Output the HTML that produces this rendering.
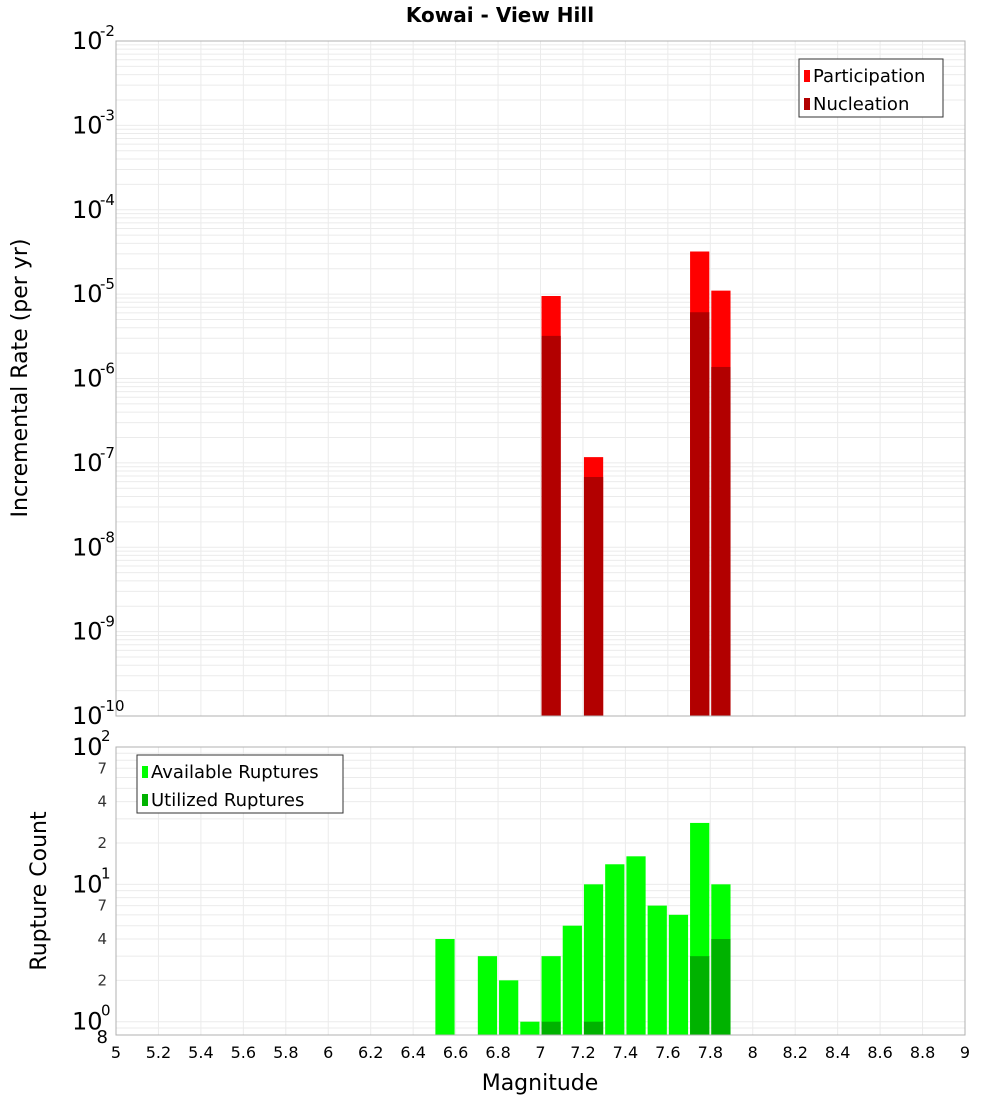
<!DOCTYPE html>
<html><head><meta charset="utf-8"><style>
body{margin:0;background:#fff;font-family:"DejaVu Sans","Liberation Sans",sans-serif}
svg text{font-family:"DejaVu Sans","Liberation Sans",sans-serif}
</style></head><body>
<svg id="c" width="1000" height="1100" xmlns="http://www.w3.org/2000/svg">
<text x="500" y="22" text-anchor="middle" font-size="20" font-weight="bold">Kowai - View Hill</text>
<text transform="translate(27,378) rotate(-90)" text-anchor="middle" font-size="22">Incremental Rate (per yr)</text>
<text transform="translate(46,891) rotate(-90)" text-anchor="middle" font-size="22">Rupture Count</text>
<text x="540" y="1090" text-anchor="middle" font-size="22">Magnitude</text>
<g id="g"></g>
</svg>
<script>
const mags=[6.55,6.75,6.85,6.95,7.05,7.15,7.25,7.35,7.45,7.55,7.65,7.75,7.85];
const available=[4,3,2,1,3,5,10,14,16,7,6,28,10];
const utilized=[0,0,0,0,1,0,1,0,0,0,0,3,4];
const rateMags=[7.05,7.25,7.75,7.85];
const participation=[9.5e-6,1.17e-7,3.2e-5,1.1e-5];
const nucleation=[3.2e-6,6.8e-8,6.1e-6,1.37e-6];
const xTicks=[5,5.2,5.4,5.6,5.8,6,6.2,6.4,6.6,6.8,7,7.2,7.4,7.6,7.8,8,8.2,8.4,8.6,8.8,9];
const topExps=[-10,-9,-8,-7,-6,-5,-4,-3,-2];

const NS="http://www.w3.org/2000/svg",g=document.getElementById('g');
function el(t,a,p){const e=document.createElementNS(NS,t);for(const k in a)e.setAttribute(k,a[k]);(p||g).appendChild(e);return e;}
const L=116,R=965,T1=41,B1=716,T2=747,B2=1035;
const X=m=>L+(m-5)/4*(R-L);
const Y1=v=>B1-(Math.log10(v)+10)/8*(B1-T1);
const dec2=(B2-T2)/(2-Math.log10(0.8));
const Y2=v=>T2+(2-Math.log10(v))*dec2;

// grids
for(let e=-10;e<-2;e++)for(let k=1;k<10;k++){const y=Y1(k*Math.pow(10,e));const l=el('line',{x1:L,x2:R,y1:y,y2:y,stroke:'#ebebeb','stroke-width':1});}
for(let e=-1;e<2;e++)for(let k=1;k<10;k++){const v=k*Math.pow(10,e);if(v<0.8)continue;const y=Y2(v);const l=el('line',{x1:L,x2:R,y1:y,y2:y,stroke:'#ebebeb'});}
xTicks.forEach(m=>{[[T1,B1],[T2,B2]].forEach(([a,b])=>{const l=el('line',{x1:X(m),x2:X(m),y1:a,y2:b,stroke:'#ebebeb'});});
 const t=el('text',{x:X(m),y:1058,'text-anchor':'middle','font-size':16});t.textContent=String(m);});

// top bars
rateMags.forEach((m,i)=>{const x=X(m-0.05)+1,w=X(m+0.05)-X(m-0.05)-2;
 const p=el('rect',{x:x,y:Y1(participation[i]),width:w,height:B1-Y1(participation[i]),fill:'#ff0000'});
 const n=el('rect',{x:x,y:Y1(nucleation[i]),width:w,height:B1-Y1(nucleation[i]),fill:'#b20000'});});
// bottom bars
mags.forEach((m,i)=>{const x=X(m-0.05)+1,w=X(m+0.05)-X(m-0.05)-2;
 const a=el('rect',{x:x,y:Y2(available[i]),width:w,height:B2-Y2(available[i]),fill:'#00ff00'});
 if(utilized[i]>0){const u=el('rect',{x:x,y:Y2(utilized[i]),width:w,height:B2-Y2(utilized[i]),fill:'#00b200'});}});

// frames
[[T1,B1],[T2,B2]].forEach(([a,b])=>{const r=el('rect',{x:L,y:a,width:R-L,height:b-a,fill:'none',stroke:'#b0b0b0'});});

// top y labels
topExps.forEach(e=>{const y=Y1(Math.pow(10,e));const t=el('text',{x:72,y:y+8,'font-size':24});t.textContent='10';
 const s=el('text',{x:100,y:y-5,'font-size':15});s.textContent=String(e);});
// bottom y labels
[[100,'2'],[10,'1'],[1,'0']].forEach(([v,e])=>{const y=Y2(v);const t=el('text',{x:72,y:y+8,'font-size':24});t.textContent='10';
 const s=el('text',{x:101,y:y-6,'font-size':15});s.textContent=e;});
[7,4,2,70,40,20,0.8].forEach(v=>{const y=Y2(v);const lab=v>=10?String(v/10):(v<1?'8':String(v));const t=el('text',{x:v<1?108:107,y:y+(v<1?8:5),'font-size':v<1?18:15,'text-anchor':'end',fill:v<1?'#000':'#333'});t.textContent=lab;});

// legends
function legend(x,y,w,items,name){const gg=el('g',{});
 el('rect',{x:x,y:y,width:w,height:58,fill:'#fff',stroke:'#333'},gg);
 items.forEach(([c,l],i)=>{el('rect',{x:x+5,y:y+11+i*28,width:6,height:12,fill:c},gg);const t=el('text',{x:x+14,y:y+23+i*28,'font-size':18},gg);t.textContent=l;});}
legend(799,59,144,[['#ff0000','Participation'],['#b20000','Nucleation']],'top-legend');
legend(137,755,206,[['#00ff00','Available Ruptures'],['#00b200','Utilized Ruptures']],'bottom-legend');
</script>
</body></html>
